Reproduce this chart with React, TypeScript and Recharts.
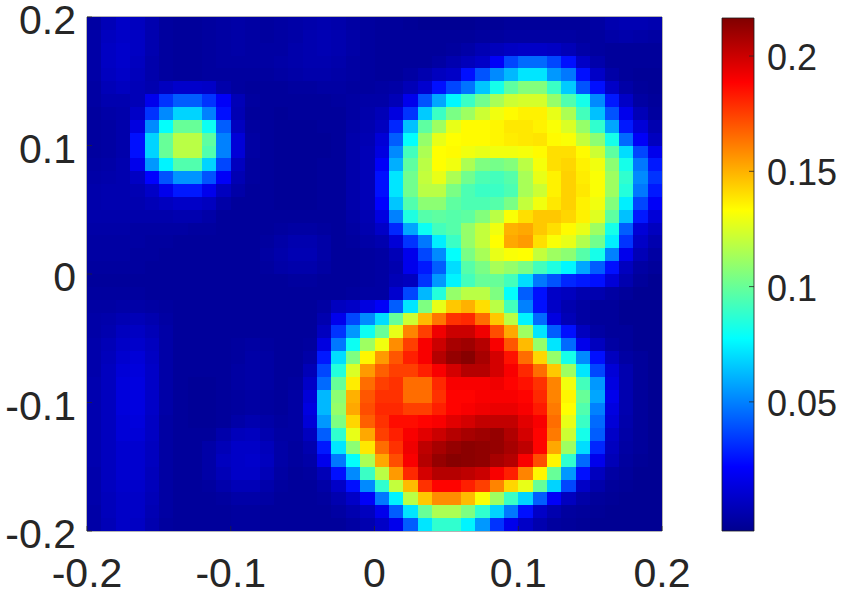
import React from "react";
import {
  Bar,
  BarChart,
  Scatter,
  ScatterChart,
  XAxis,
  YAxis,
} from "recharts";

// heat values in thousandths, rows from the top of the plot, 40 columns left to right
const row00 = [-1,4,8,6,2,-2,-3,-3,-2,-1,0,-1,-2,-1,0,1,2,1,-1,-2,-3,-3,-4,-5,-5,-5,-5,-4,-4,-3,-3,-3,-3,-3,-3,-1,2,3,3,2];
const row01 = [0,6,8,7,2,-2,-3,-3,-2,-1,0,-1,-2,-1,0,2,3,2,0,-2,-3,-3,-3,-3,-3,-3,-3,-2,-2,-1,-1,-1,-1,-1,-2,-2,0,1,0,-1];
const row02 = [0,7,9,7,2,-2,-3,-3,-2,-1,0,-1,-1,-1,1,2,3,2,0,-2,-3,-3,-3,-3,-3,-2,0,3,5,7,8,8,7,4,0,-2,-3,-3,-3,-3];
const row03 = [0,7,9,6,1,-2,-3,-3,-2,-1,-1,-1,-1,0,1,2,2,1,-1,-2,-3,-3,-3,-3,-1,2,5,8,20,37,45,45,37,25,8,1,-3,-3,-3,-3];
const row04 = [0,6,8,5,1,-2,-3,-3,-2,-2,-2,-2,-2,-1,0,1,1,0,-1,-2,-3,-3,-1,2,6,8,25,40,52,62,72,72,55,48,25,8,0,-3,-4,-4];
const row05 = [-1,4,6,4,2,6,9,9,8,1,-2,-3,-3,-3,-2,-2,-1,-1,-2,-2,-1,0,4,10,25,37,47,65,82,98,106,106,90,66,40,25,8,0,-3,-4];
const row06 = [-1,2,2,4,17,33,42,42,33,20,4,-2,-3,-3,-3,-3,-3,-2,-1,0,0,4,17,40,58,76,90,102,114,122,124,124,110,95,82,52,27,8,-1,-3];
const row07 = [-2,0,1,8,33,52,68,68,50,25,3,-3,-3,-4,-3,-3,-3,-3,-1,1,4,14,33,66,90,104,112,122,130,134,136,136,128,115,92,64,40,17,4,-2];
const row08 = [-2,-1,1,14,52,78,100,100,80,42,6,-2,-3,-4,-4,-4,-3,-3,0,2,6,30,64,98,112,128,134,134,135,138,138,136,132,125,110,88,58,27,12,2];
const row09 = [-2,-1,1,25,68,100,118,118,98,50,12,-1,-3,-4,-4,-4,-4,-3,1,3,12,42,78,110,128,133,134,134,135,137,138,139,134,132,120,108,82,45,20,6];
const row10 = [-2,-1,1,25,68,100,118,118,95,50,12,-1,-3,-4,-4,-4,-4,-3,1,4,14,52,92,115,133,134,130,128,130,130,131,134,140,140,134,122,98,70,37,17];
const row11 = [-1,0,2,17,55,75,95,95,68,37,6,-2,-3,-4,-4,-4,-3,-3,1,4,20,60,98,118,133,130,115,105,103,106,118,131,140,142,136,130,108,82,48,27];
const row12 = [0,1,2,7,22,40,54,54,40,20,3,-2,-3,-4,-4,-4,-3,-3,1,4,25,72,102,120,128,115,102,94,92,96,114,128,136,143,137,132,112,88,52,33];
const row13 = [1,2,2,3,8,17,27,27,17,6,0,-3,-3,-4,-4,-4,-3,-3,1,4,25,72,102,118,118,104,94,90,90,94,114,122,136,143,138,132,112,85,48,27];
const row14 = [1,2,2,2,4,6,8,8,6,0,-3,-3,-3,-4,-4,-4,-3,-3,1,4,22,65,95,108,108,98,94,94,96,104,120,130,138,143,136,130,106,74,37,20];
const row15 = [1,1,1,1,1,1,2,2,0,-3,-3,-3,-3,-3,-3,-3,-3,-3,0,3,14,50,84,96,98,96,98,106,118,132,140,145,145,142,136,126,98,64,27,12];
const row16 = [0,0,0,-1,-1,-1,-1,-2,-2,-3,-3,-3,-3,-2,-1,-1,-2,-3,-1,2,8,30,58,80,92,96,110,120,130,150,152,145,140,134,128,112,82,42,12,6];
const row17 = [-1,-1,-1,-1,-2,-2,-3,-3,-3,-3,-3,-3,-2,0,2,2,0,-3,-2,0,2,12,33,48,74,90,110,120,133,152,155,140,132,128,116,102,74,33,8,2];
const row18 = [-1,-1,-1,-2,-2,-3,-3,-3,-3,-3,-3,-3,-1,1,3,3,0,-3,-3,-2,-1,4,17,37,52,78,104,114,128,132,133,120,112,108,96,82,50,17,4,-1];
const row19 = [-2,-2,-2,-2,-3,-3,-3,-3,-3,-3,-3,-3,-2,0,1,1,-1,-3,-3,-2,-1,2,17,27,42,70,96,104,114,110,104,92,84,76,58,42,25,6,-1,-3];
const row20 = [-3,-3,-3,-3,-3,-3,-3,-3,-3,-3,-3,-3,-3,-3,-2,-2,-3,-3,-3,-2,-1,4,6,33,55,75,92,100,100,92,70,48,40,30,27,25,12,2,-3,-5];
const row21 = [-2,-2,-2,-2,-3,-3,-3,-3,-3,-3,-3,-3,-3,-3,-3,-3,-3,-3,-2,-1,-1,10,37,62,85,110,118,118,105,78,42,25,8,6,2,2,-1,-3,-5,-5];
const row22 = [-1,-1,0,0,-1,-2,-3,-3,-3,-3,-3,-3,-3,-3,-3,-3,-1,6,8,14,20,42,72,105,128,145,150,140,118,92,50,25,8,2,-1,-3,-3,-5,-5,-5];
const row23 = [0,1,3,4,2,-1,-3,-3,-3,-3,-3,-3,-3,-3,-3,-3,2,17,37,52,70,100,122,148,163,178,180,165,145,118,75,45,14,4,-1,-3,-3,-5,-5,-5];
const row24 = [0,2,6,7,4,0,-3,-3,-3,-3,-3,-3,-3,-3,-3,-3,6,33,55,80,100,128,160,175,192,200,200,192,172,152,112,72,42,25,6,-1,-3,-3,-5,-5];
const row25 = [1,4,8,9,6,0,-3,-3,-3,-3,-2,-1,-2,-3,-3,-2,14,48,80,112,130,158,175,190,200,208,210,205,190,170,148,110,72,45,17,6,-1,-3,-5,-5];
const row26 = [1,5,10,12,7,0,-3,-3,-3,-3,-2,0,-1,-3,-3,0,27,70,105,135,155,170,182,190,205,212,215,208,198,185,165,142,110,82,52,25,6,-1,-3,-5];
const row27 = [1,6,12,13,8,0,-3,-3,-3,-3,-1,0,-1,-3,-3,4,37,85,125,155,168,175,175,182,190,198,205,205,198,190,180,165,145,112,72,37,12,2,-3,-5];
const row28 = [2,6,13,14,8,0,-3,-4,-4,-3,-1,0,-1,-3,-2,8,45,100,137,165,175,178,165,165,180,190,190,190,192,188,185,178,160,130,92,55,14,2,-3,-5];
const row29 = [2,6,13,14,8,0,-3,-4,-4,-3,-2,-1,-2,-3,-1,12,62,108,150,170,178,178,165,165,178,188,188,190,190,190,188,180,160,135,100,58,17,2,-3,-5];
const row30 = [2,6,13,14,8,0,-3,-4,-4,-3,-2,-1,-2,-3,-1,14,62,110,152,172,180,180,175,175,182,188,190,192,193,193,190,183,162,133,95,50,14,2,-3,-5];
const row31 = [2,6,12,13,7,-1,-3,-4,-4,-3,0,2,0,-2,-1,12,55,105,142,168,178,186,186,188,190,195,198,202,202,202,195,190,165,128,90,45,12,1,-3,-5];
const row32 = [2,6,12,12,7,-1,-3,-3,-3,1,5,6,2,-1,-1,6,42,88,128,152,175,182,190,195,200,205,208,210,212,206,198,188,162,122,82,42,8,0,-3,-5];
const row33 = [2,6,10,10,6,-1,-3,-3,0,4,8,8,5,0,-2,2,27,72,108,138,165,178,192,203,208,212,214,213,212,208,203,188,152,112,70,30,6,-1,-3,-5];
const row34 = [2,6,10,10,6,-1,-3,-3,0,6,8,9,6,0,-2,0,17,48,78,115,152,172,190,205,212,215,214,213,208,205,190,172,135,88,45,17,4,-2,-4,-5];
const row35 = [1,6,10,10,5,-1,-3,-3,0,4,8,8,4,-1,-3,-2,4,25,52,90,118,155,180,198,205,205,203,200,190,182,160,135,100,55,25,6,-1,-3,-5,-5];
const row36 = [1,6,9,9,5,-1,-3,-3,-2,1,4,4,1,-2,-3,-3,0,8,25,52,88,120,148,178,188,188,182,175,160,142,128,100,68,37,8,1,-3,-4,-5,-5];
const row37 = [1,5,8,8,4,-1,-3,-3,-3,-2,0,0,-1,-3,-3,-3,-2,2,8,20,48,75,118,145,158,158,148,132,112,90,68,42,20,6,0,-3,-4,-5,-5,-5];
const row38 = [0,5,8,8,3,-1,-3,-3,-3,-3,-2,-2,-3,-3,-3,-3,-3,-1,2,6,17,42,72,100,115,115,105,88,68,48,25,8,2,-2,-3,-4,-5,-5,-5,-5];
const row39 = [0,4,8,7,2,-2,-3,-3,-3,-3,-2,-2,-3,-3,-3,-3,-3,-3,-1,2,8,17,42,72,88,88,75,55,33,17,8,2,-2,-3,-4,-5,-5,-5,-5,-5];

const rows = [
  row00, row01, row02, row03, row04, row05, row06, row07, row08, row09,
  row10, row11, row12, row13, row14, row15, row16, row17, row18, row19,
  row20, row21, row22, row23, row24, row25, row26, row27, row28, row29,
  row30, row31, row32, row33, row34, row35, row36, row37, row38, row39,
];

const axisTicks = [-0.2, -0.1, 0, 0.1, 0.2];
const colorbarTicks = [0.05, 0.1, 0.15, 0.2];
const colorMin = -0.006;
const colorMax = 0.2165;

const TEXT = "#262626";
const FONT = "'Liberation Sans', Arial, sans-serif";
const CELL_W = 575 / 40;
const CELL_H = 514 / 40;

const JET: [number, string][] = [
  [0, "#00008f"],
  [0.125, "#0000ff"],
  [0.375, "#00ffff"],
  [0.625, "#ffff00"],
  [0.875, "#ff0000"],
  [1, "#800000"],
];

function jet(value: number) {
  const t = Math.min(1, Math.max(0, (value - colorMin) / (colorMax - colorMin)));
  const hex = (s: string, i: number) => parseInt(s.slice(1 + i * 2, 3 + i * 2), 16);
  for (let i = 1; i < JET.length; i++) {
    if (t <= JET[i][0]) {
      const f = (t - JET[i - 1][0]) / (JET[i][0] - JET[i - 1][0]);
      const c = [0, 1, 2].map((k) =>
        Math.round(hex(JET[i - 1][1], k) + f * (hex(JET[i][1], k) - hex(JET[i - 1][1], k))),
      );
      return `rgb(${c.join(",")})`;
    }
  }
  return "#800000";
}

const cells = rows.flatMap((row, j) =>
  row.map((v, i) => ({
    x: -0.2 + (i + 0.5) * 0.01,
    y: 0.2 - (j + 0.5) * 0.01,
    value: v / 1000,
  })),
);

const colorbarData = [{ name: "c", range: [colorMin, colorMax] }];

function HeatCell({ cx, cy, payload }: any) {
  return (
    <rect
      x={cx - CELL_W / 2}
      y={cy - CELL_H / 2}
      width={CELL_W}
      height={CELL_H}
      fill={jet(payload.value)}
      shapeRendering="crispEdges"
    />
  );
}

function BottomTick({ x, y, payload }: any) {
  return (
    <g>
      <line x1={x} x2={x} y1={y} y2={y - 5} stroke={TEXT} strokeWidth={0.7} />
      <text x={x} y={y + 56} textAnchor="middle" fontSize={41} fontFamily={FONT} fill={TEXT}>
        {String(payload.value)}
      </text>
    </g>
  );
}

function LeftTick({ x, y, payload }: any) {
  return (
    <g>
      <line x1={x} x2={x + 5} y1={y} y2={y} stroke={TEXT} strokeWidth={0.7} />
      <text x={x - 11} y={y + 17} textAnchor="end" fontSize={41} fontFamily={FONT} fill={TEXT}>
        {String(payload.value)}
      </text>
    </g>
  );
}

function TopTick({ x, y }: any) {
  return <line x1={x} x2={x} y1={y} y2={y + 5} stroke={TEXT} strokeWidth={0.7} />;
}

function RightTick({ x, y }: any) {
  return <line x1={x} x2={x - 5} y1={y} y2={y} stroke={TEXT} strokeWidth={0.7} />;
}

function ColorbarTick({ x, y, payload }: any) {
  return (
    <g>
      <line x1={x} x2={x - 5} y1={y} y2={y} stroke={TEXT} strokeWidth={0.8} />
      <text x={x + 13} y={y + 14} textAnchor="start" fontSize={36} fontFamily={FONT} fill={TEXT}>
        {String(payload.value)}
      </text>
    </g>
  );
}

export default function App() {
  const axisLine = { stroke: TEXT, strokeWidth: 0.7 };
  return (
    <div style={{ position: "absolute", left: 0, top: 0, width: 842, height: 594, overflow: "hidden", background: "#fff" }}>
      <div style={{ position: "absolute", left: 0, top: 0 }}>
        <ScatterChart
          width={842}
          height={594}
          margin={{ top: 16, right: 179, bottom: 0, left: 0 }}
        >
          <Scatter data={cells} dataKey="value" shape={HeatCell} isAnimationActive={false} />
          <XAxis
            type="number"
            dataKey="x"
            domain={[-0.2, 0.2]}
            ticks={axisTicks}
            height={63}
            tickSize={0}
            tickMargin={0}
            axisLine={axisLine}
            tick={BottomTick}
            interval={0}
          />
          <XAxis
            xAxisId="top"
            orientation="top"
            type="number"
            dataKey="x"
            domain={[-0.2, 0.2]}
            ticks={axisTicks}
            height={1}
            tickSize={0}
            tickMargin={0}
            axisLine={axisLine}
            tick={TopTick}
            interval={0}
          />
          <YAxis
            type="number"
            dataKey="y"
            domain={[-0.2, 0.2]}
            ticks={axisTicks}
            width={87}
            tickSize={0}
            tickMargin={0}
            axisLine={axisLine}
            tick={LeftTick}
            interval={0}
          />
          <YAxis
            yAxisId="right"
            orientation="right"
            type="number"
            dataKey="y"
            domain={[-0.2, 0.2]}
            ticks={axisTicks}
            width={1}
            tickSize={0}
            tickMargin={0}
            axisLine={axisLine}
            tick={RightTick}
            interval={0}
          />
        </ScatterChart>
      </div>
      <div style={{ position: "absolute", left: 0, top: 0 }}>
        <BarChart
          width={842}
          height={594}
          data={colorbarData}
          margin={{ top: 18, right: 0, bottom: 63, left: 722 }}
          barCategoryGap={0}
        >
          <defs>
            <linearGradient id="jetBar" x1="0" y1="1" x2="0" y2="0">
              {JET.map(([offset, color]) => (
                <stop key={offset} offset={`${offset * 100}%`} stopColor={color} />
              ))}
            </linearGradient>
          </defs>
          <XAxis dataKey="name" hide />
          <YAxis
            orientation="right"
            type="number"
            domain={[colorMin, colorMax]}
            ticks={colorbarTicks}
            width={88}
            tickSize={0}
            tickMargin={0}
            axisLine={false}
            tick={ColorbarTick}
            interval={0}
          />
          <Bar
            dataKey="range"
            fill="url(#jetBar)"
            stroke="#1a1a1a"
            strokeWidth={0.8}
            isAnimationActive={false}
          />
        </BarChart>
      </div>
    </div>
  );
}
